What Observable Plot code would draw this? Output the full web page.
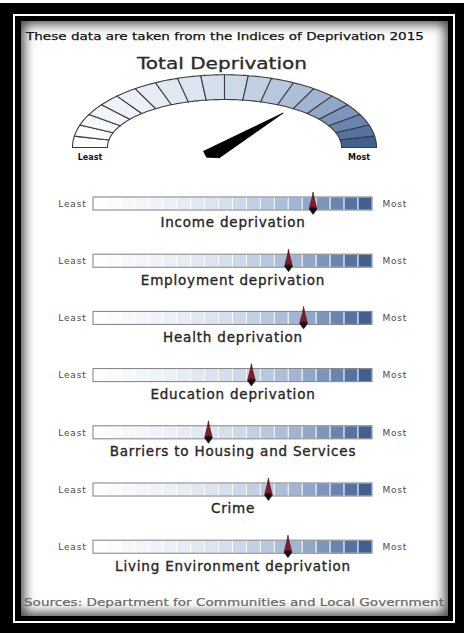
<!DOCTYPE html>
<html>
<head>
<meta charset="utf-8">
<script src="https://cdn.jsdelivr.net/npm/d3@7"></script>
<script src="https://cdn.jsdelivr.net/npm/@observablehq/plot@0.6"></script>
<style>
html, body { margin: 0; padding: 0; background: #fff; }
body { width: 464px; height: 633px; position: relative; overflow: hidden; font-family: "DejaVu Sans", sans-serif; }
#outer { position: absolute; left: 0; top: 3px; width: 464px; height: 630px; background: #000; }
#rule { position: absolute; left: 13px; top: 14px; width: 438px; height: 605px; border: 2px solid #fff; }
#panel { position: absolute; left: 21px; top: 21px; width: 427px; height: 595px; background: #fff;
  box-shadow: inset 0 0 12px 3px rgba(0,0,0,0.75); }
.abs { position: absolute; white-space: nowrap; line-height: 1; }
.plotbox { position: absolute; left: 0; }
.plotbox svg { background: transparent !important; overflow: visible; }
</style>
</head>
<body>
<div id="outer"></div>
<div id="rule"></div>
<div id="panel"></div>
<script>
// ---------- data ----------
const headerText = "These data are taken from the Indices of Deprivation 2015";
const titleText = "Total Deprivation";
const sourceText = "Sources: Department for Communities and Local Government";
const endLabels = ["Least", "Most"];
const totalScore = 0.72;
const segmentCount = 20;
const categories = [
  "Income deprivation",
  "Employment deprivation",
  "Health deprivation",
  "Education deprivation",
  "Barriers to Housing and Services",
  "Crime",
  "Living Environment deprivation"
];
const scores = [0.787, 0.699, 0.753, 0.566, 0.412, 0.627, 0.697];

// ---------- styling ----------
const ramp = d3.piecewise(d3.interpolateRgb, ["#ffffff", "#edf2f8", "#d3deec", "#9bb0d0", "#37578b"]);
const innerRx = 0.77, innerRy = 0.66;

function placeText(text, o) {
  const el = document.createElement("div");
  el.className = "abs";
  el.textContent = text;
  el.style.fontSize = o.size + "px";
  el.style.color = o.color;
  if (o.stroke) el.style.webkitTextStroke = o.stroke;
  document.body.appendChild(el);
  const w = el.getBoundingClientRect().width;
  el.style.transformOrigin = "0 0";
  el.style.transform = `scaleX(${o.width / w})`;
  el.style.left = (o.cx != null ? o.cx - o.width / 2 : o.left) + "px";
  el.style.top = (o.capCenter - 0.48 * o.size) + "px";
}

placeText(headerText, {left: 26, width: 398, capCenter: 36.5, size: 11, color: "#111", stroke: "0.25px #111"});
placeText(titleText, {cx: 222, width: 170, capCenter: 64, size: 15.5, color: "#2a2a2a", stroke: "0.3px #2a2a2a"});
placeText(sourceText, {left: 24, width: 420, capCenter: 602, size: 11, color: "#666", stroke: "0.2px #666"});

// ---------- gauge ----------
const gaugePoly = [];
for (let j = 0; j < segmentCount; j++) {
  const a0 = Math.PI - j * Math.PI / segmentCount;
  const a1 = Math.PI - (j + 1) * Math.PI / segmentCount;
  const color = ramp((j + 0.5) / segmentCount);
  const pts = [];
  for (let k = 0; k <= 6; k++) { const a = a0 + (a1 - a0) * k / 6; pts.push([Math.cos(a), Math.sin(a)]); }
  for (let k = 6; k >= 0; k--) { const a = a0 + (a1 - a0) * k / 6; pts.push([innerRx * Math.cos(a), innerRy * Math.sin(a)]); }
  pts.push(pts[0]);
  pts.forEach(p => gaugePoly.push({seg: j, x: p[0], y: p[1], color}));
}
const theta = Math.PI * (1 - totalScore);
const pivot = [-0.0855, -0.096], needleLen = 0.74, needleW = 0.068;
const dir = [Math.cos(theta), Math.sin(theta)], perp = [Math.sin(theta), -Math.cos(theta)];
const needle = [
  [pivot[0] + needleW * perp[0], pivot[1] + needleW * perp[1]],
  [pivot[0] + needleLen * dir[0], pivot[1] + needleLen * dir[1]],
  [pivot[0] - needleW * perp[0], pivot[1] - needleW * perp[1]],
  [pivot[0] - 0.05 * dir[0], pivot[1] - 0.05 * dir[1]]
].map(([x, y]) => ({x, y}));
needle.push(needle[0]);

const gaugeTop = 60, gaugeH = 110;
const gauge = Plot.plot({
  width: 464, height: gaugeH,
  margin: 0,
  x: {domain: [-224 / 152, 240 / 152], axis: null},
  y: {domain: [-(gaugeTop + gaugeH - 147) / 72.7, (147 - gaugeTop) / 72.7], axis: null},
  color: {type: "identity"},
  style: {fontFamily: '"DejaVu Sans", sans-serif', background: "transparent"},
  marks: [
    Plot.line(gaugePoly, {x: "x", y: "y", z: "seg", fill: "color", stroke: "#3c3c3c", strokeWidth: 1.1, curve: "linear"}),
    Plot.line(needle, {x: "x", y: "y", fill: "#000", stroke: "#000", strokeWidth: 0.8}),
    Plot.text(endLabels, {x: (d, i) => (i === 0 ? -1 : 1) * (1 + innerRx) / 2, y: -0.14, text: d => d,
      fontSize: 8, fontWeight: "bold", fill: "#111"})
  ]
});
const gbox = document.createElement("div");
gbox.className = "plotbox"; gbox.style.top = gaugeTop + "px";
gbox.appendChild(gauge); document.body.appendChild(gbox);

// ---------- bars ----------
const segs = [];
categories.forEach((c, i) => {
  for (let j = 0; j < segmentCount; j++) {
    segs.push({row: i, x1: j / segmentCount, x2: (j + 1) / segmentCount, color: ramp((j + 0.5) / segmentCount)});
  }
});
const rows = categories.map((c, i) => ({row: i, name: c, score: scores[i]}));
const half = 0.114;

const coneBody = {
  draw(ctx) {
    ctx.moveTo(0, -12); ctx.lineTo(1.1, -6); ctx.lineTo(3.8, 4.5); ctx.lineTo(0, 6.5);
    ctx.lineTo(-3.8, 4.5); ctx.lineTo(-1.1, -6); ctx.closePath();
  }
};
const coneBase = {
  draw(ctx) {
    ctx.moveTo(-4, 5); ctx.lineTo(0, 3); ctx.lineTo(4, 5); ctx.lineTo(0, 10.5); ctx.closePath();
  }
};

const barsTop = 180, barsH = 420;
const bars = Plot.plot({
  width: 464, height: barsH,
  margin: 0,
  x: {domain: [0, 1], range: [93, 372], axis: null},
  y: {domain: [-23.5 / 57.2, (barsH - 23.5) / 57.2], range: [0, barsH], axis: null},
  color: {type: "identity"},
  style: {fontFamily: '"DejaVu Sans", sans-serif', letterSpacing: "0.8px", background: "transparent"},
  marks: [
    Plot.rect(segs, {x1: "x1", x2: "x2", y1: d => d.row - half, y2: d => d.row + half, fill: "color",
      stroke: "#ffffff", strokeWidth: 1, strokeOpacity: 0.85}),
    Plot.rect(rows, {x1: 0, x2: 1, y1: d => d.row - half, y2: d => d.row + half, fill: "none", stroke: "#7f7f7f", strokeWidth: 1}),
    Plot.text(rows, {x: 0, y: "row", text: () => endLabels[0], textAnchor: "end", dx: -7, fontSize: 9, fill: "#4a4a4a"}),
    Plot.text(rows, {x: 1, y: "row", text: () => endLabels[1], textAnchor: "start", dx: 10, fontSize: 9, fill: "#4a4a4a"}),
    Plot.text(rows, {x: 0.5, y: d => d.row + 0.332, text: "name", fontSize: 13.5, fill: "#262626",
      stroke: "#262626", strokeWidth: 0.35}),
    Plot.dot(rows, {x: "score", y: "row", symbol: coneBody, fill: "#8a1a2a", stroke: "#3a0a10", strokeWidth: 0.6}),
    Plot.dot(rows, {x: "score", y: "row", symbol: coneBase, fill: "#111", stroke: "#111", strokeWidth: 0.5})
  ]
});
const bbox = document.createElement("div");
bbox.className = "plotbox"; bbox.style.top = barsTop + "px";
bbox.appendChild(bars); document.body.appendChild(bbox);
</script>
</body>
</html>
